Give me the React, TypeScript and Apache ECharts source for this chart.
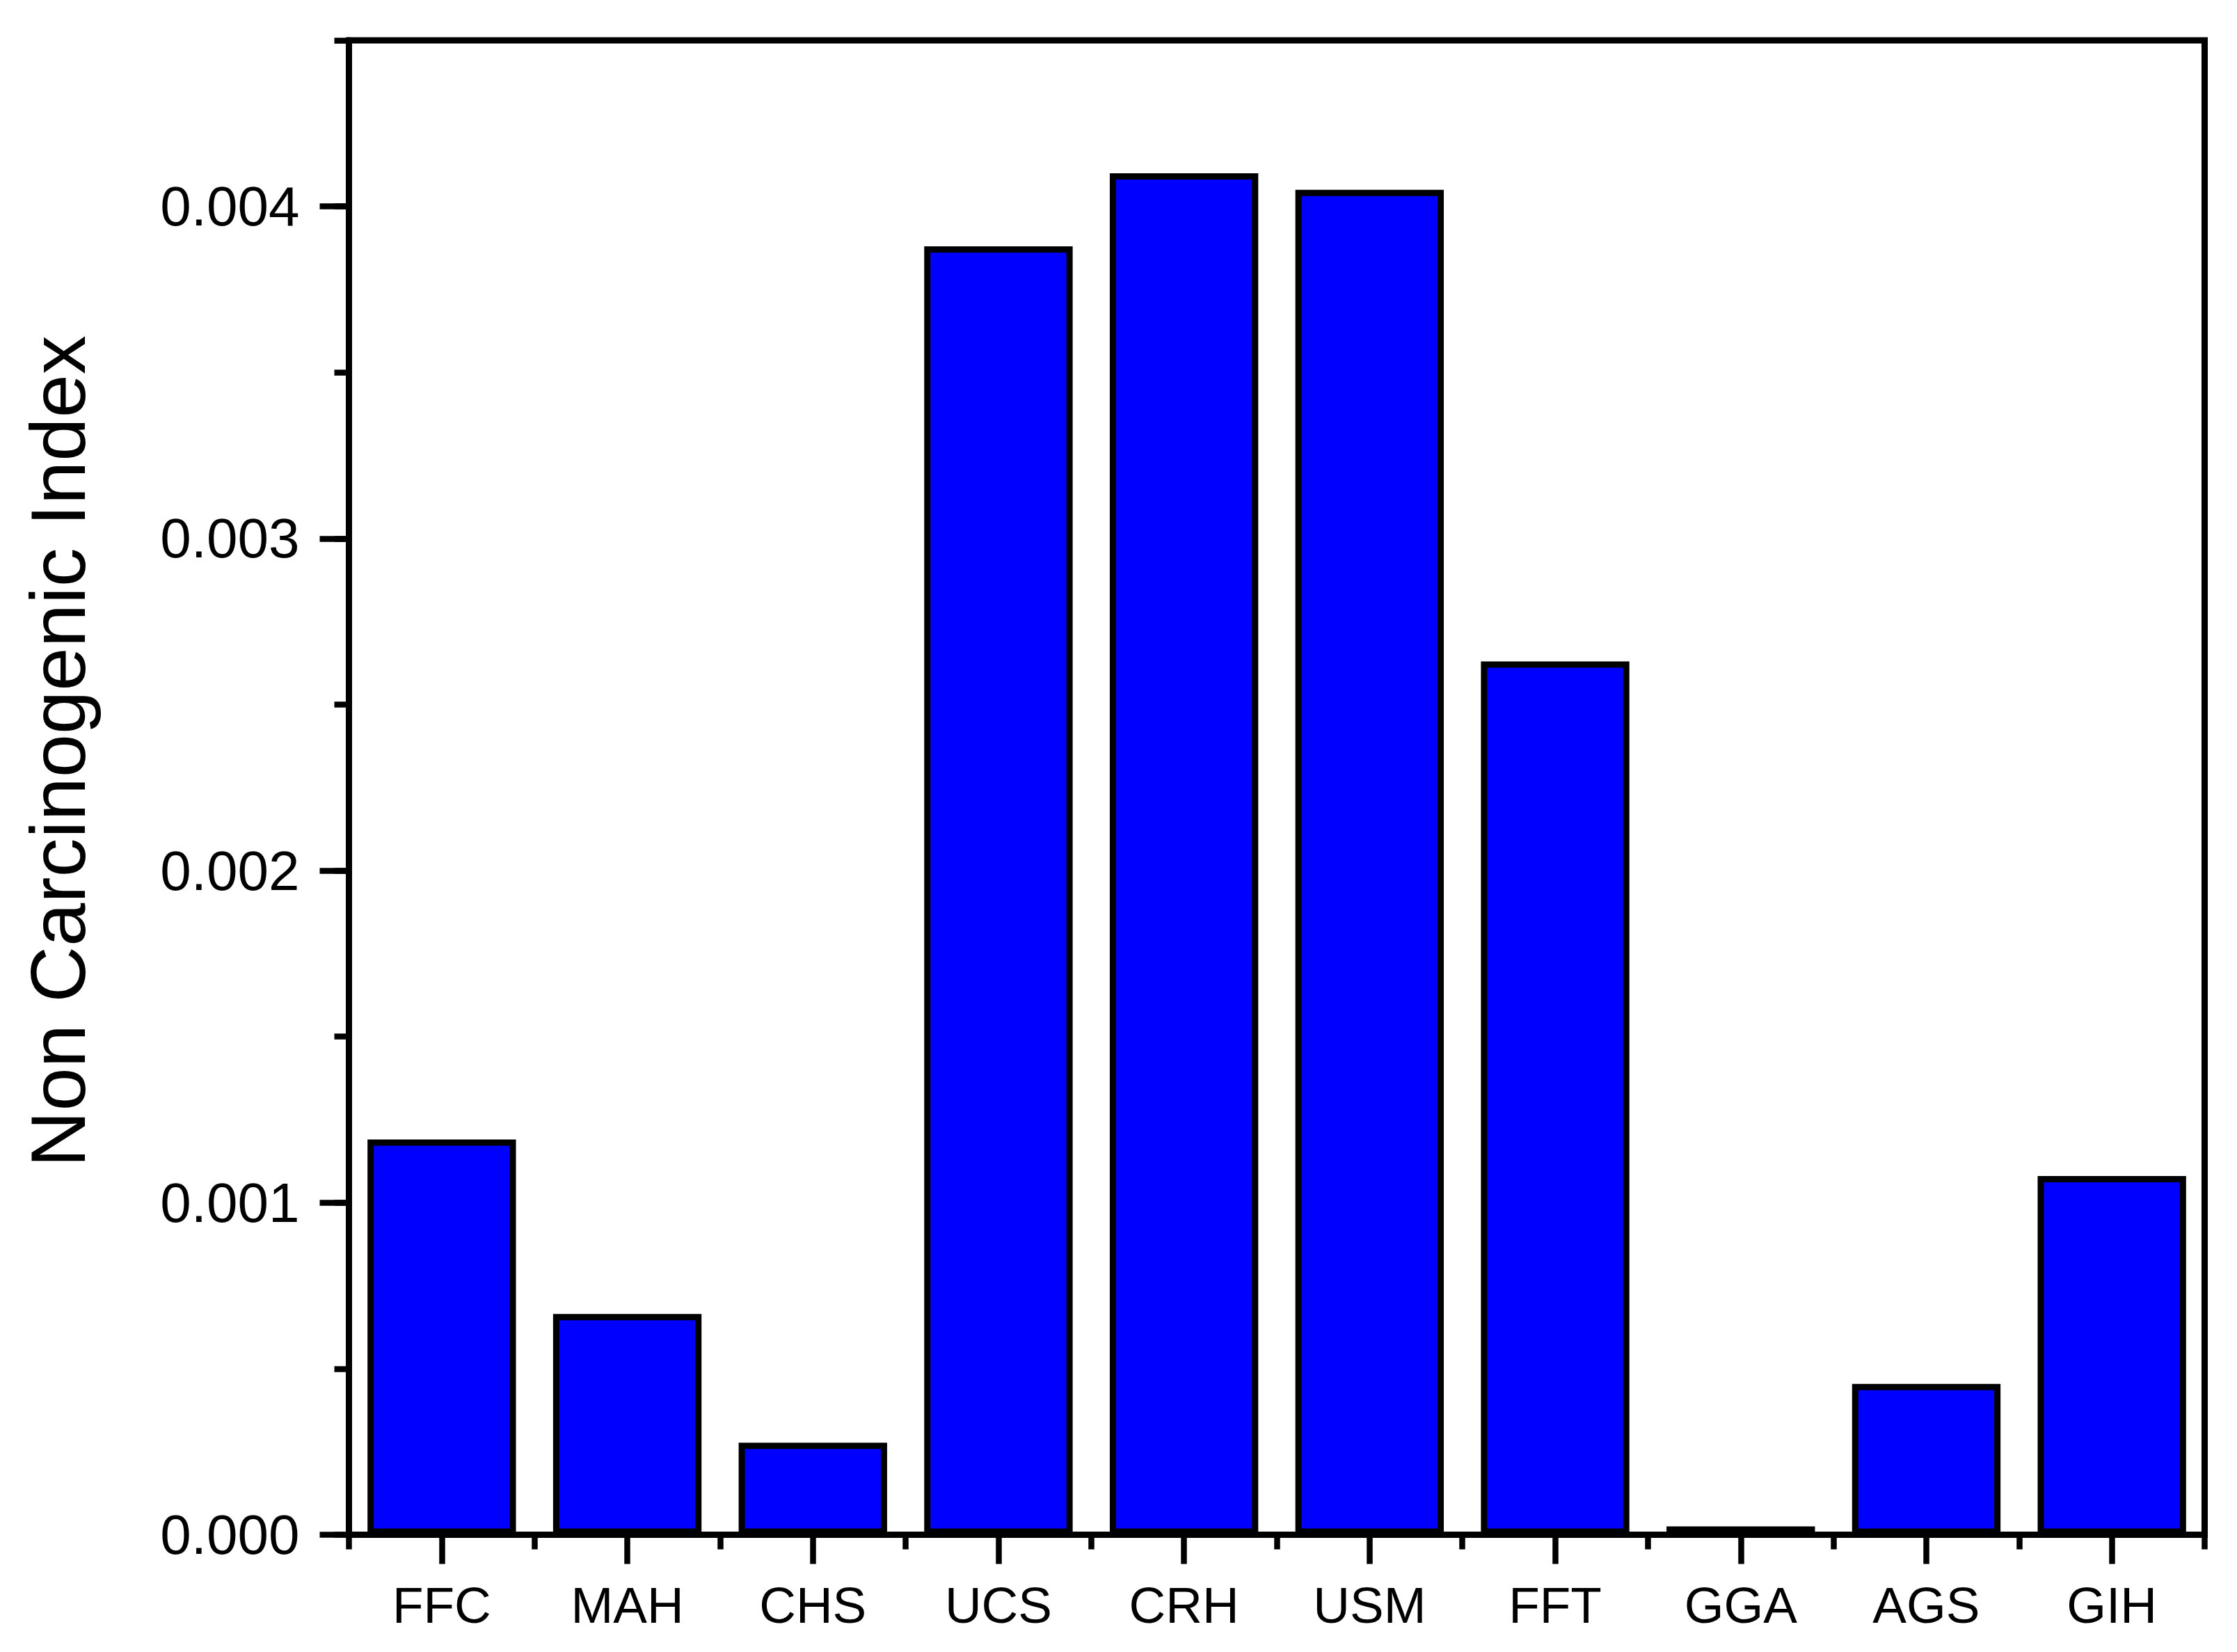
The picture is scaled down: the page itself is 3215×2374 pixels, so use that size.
import React, { useEffect, useRef } from "react";
import * as echarts from "echarts";

const categories = ["FFC", "MAH", "CHS", "UCS", "CRH", "USM", "FFT", "GGA", "AGS", "GIH"];
const values = [0.00119, 0.000665, 0.000277, 0.00388, 0.0041, 0.00405, 0.00263, 0.000025, 0.000454, 0.00108];
const majorTicks = [0, 0.001, 0.002, 0.003, 0.004];
const yTitle = "Non Carcinogenic Index";

const FONT = "'Liberation Sans', Arial, Helvetica, sans-serif";

export default function App() {
  const ref = useRef<HTMLDivElement>(null);
  useEffect(() => {
    if (!ref.current) return;
    const chart = echarts.init(ref.current, null, { renderer: "svg" });
    chart.setOption({
      animation: false,
      backgroundColor: "#ffffff",
      grid: {
        left: 501.5,
        right: 46.5,
        top: 58,
        bottom: 168.5,
        show: true,
        borderColor: "#000",
        borderWidth: 9,
        backgroundColor: "transparent",
      },
      xAxis: [
        {
          type: "category",
          data: categories,
          position: "bottom",
          boundaryGap: true,
          axisLine: { show: true, lineStyle: { color: "#000", width: 9 } },
          axisTick: { show: true, alignWithLabel: false, length: 21, lineStyle: { color: "#000", width: 8.5 } },
          axisLabel: { show: true, color: "#000", fontFamily: FONT, fontSize: 73, margin: 64 },
          splitLine: { show: false },
        },
        {
          type: "category",
          data: categories,
          position: "bottom",
          boundaryGap: true,
          axisLine: { show: false },
          axisTick: { show: true, alignWithLabel: true, length: 42, lineStyle: { color: "#000", width: 8.5 } },
          axisLabel: { show: false },
          splitLine: { show: false },
        },
      ],
      yAxis: [
        {
          type: "value",
          min: 0,
          max: 0.0045,
          interval: 0.0005,
          position: "left",
          name: yTitle,
          nameLocation: "middle",
          nameGap: 362,
          nameTextStyle: { color: "#000", fontFamily: FONT, fontSize: 112, padding: [0, 0, 0, 104] },
          axisLine: { show: true, lineStyle: { color: "#000", width: 9 } },
          axisTick: { show: true, length: 21, lineStyle: { color: "#000", width: 8.5 } },
          axisLabel: {
            show: true,
            color: "#000",
            fontFamily: FONT,
            fontSize: 80,
            margin: 71,
            formatter: (v: number) => {
              const k = v * 1000;
              return Math.abs(k - Math.round(k)) < 1e-6 ? v.toFixed(3) : "";
            },
          },
          splitLine: { show: false },
        },
        {
          type: "value",
          min: 0,
          max: 0.0045,
          interval: 0.0005,
          position: "left",
          axisLine: { show: false },
          axisTick: { show: true, length: 42, customValues: majorTicks, lineStyle: { color: "#000", width: 8.5 } },
          axisLabel: { show: false },
          splitLine: { show: false },
        },
      ],
      series: [
        {
          type: "bar",
          xAxisIndex: 0,
          yAxisIndex: 0,
          data: values,
          barWidth: "80%",
          itemStyle: { color: "#0000FF", borderColor: "#000", borderWidth: 9 },
        },
      ],
    });
    return () => chart.dispose();
  }, []);
  return (
    <div
      ref={ref}
      style={{ position: "absolute", left: 0, top: 0, width: 3215, height: 2374 }}
    />
  );
}
